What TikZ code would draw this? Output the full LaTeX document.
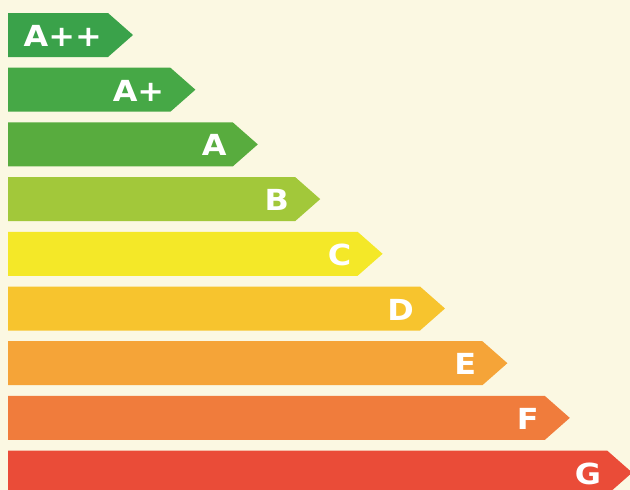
\documentclass[tikz,border=0pt]{standalone}
\usepackage{fontspec}
\setsansfont{DejaVu Sans}
\usepackage{tikz}
\usetikzlibrary{positioning}
\definecolor{bgcream}{RGB}{251,248,226}
\definecolor{gradeapp}{RGB}{58,162,74}
\definecolor{gradeap}{RGB}{70,168,70}
\definecolor{gradea}{RGB}{88,172,62}
\definecolor{gradeb}{RGB}{162,200,58}
\definecolor{gradec}{RGB}{244,232,40}
\definecolor{graded}{RGB}{247,196,46}
\definecolor{gradee}{RGB}{245,164,56}
\definecolor{gradef}{RGB}{240,124,60}
\definecolor{gradeg}{RGB}{234,76,56}
\tikzset{
  grade/.style={text=white, font=\sffamily\bfseries\fontsize{29}{29}\selectfont,
    anchor=east, inner sep=0pt, xscale=1.1}
}

\begin{document}
\begin{tikzpicture}[x=1pt,y=-1pt]
    \fill[bgcream] (0,0) rectangle (630,490);
    \useasboundingbox (0,0) rectangle (630,490);
    \clip (0,0) rectangle (630,490);
    \foreach \lbl/\col [count=\i from 0] in {A++/gradeapp, A+/gradeap, A/gradea,
        B/gradeb, C/gradec, D/graded, E/gradee, F/gradef, G/gradeg} {
      \pgfmathsetmacro{\ytop}{13+54.7*\i}
      \pgfmathsetmacro{\tipx}{133+62.4*\i}
      \fill[\col] (8,\ytop) -- (\tipx-25,\ytop) -- (\tipx,\ytop+22)
        -- (\tipx-25,\ytop+44) -- (8,\ytop+44) -- cycle;
      \node[grade] (g\i) at (\tipx-31,\ytop+23) {\lbl};
    }
  \end{tikzpicture}
\end{document}
